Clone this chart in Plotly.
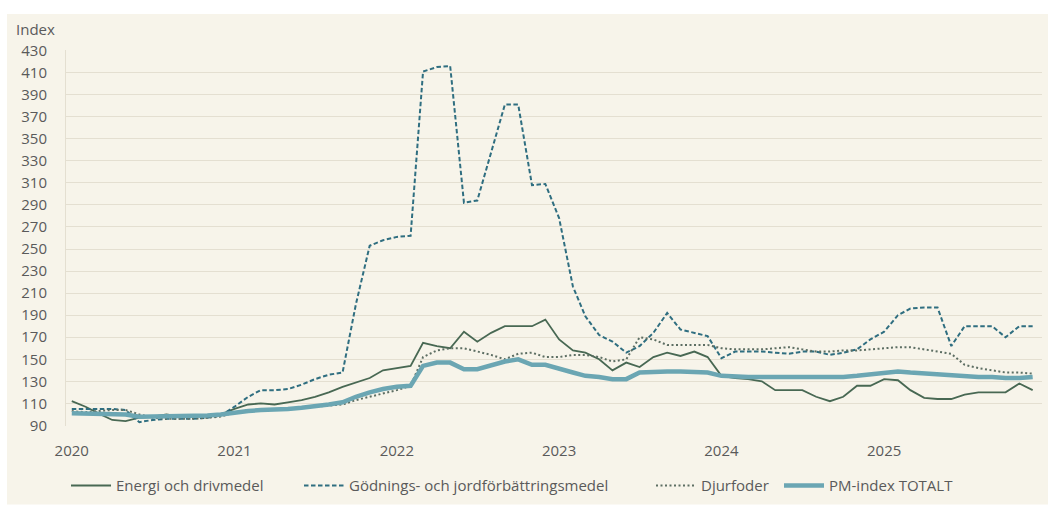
import plotly.graph_objects as go

# Monthly observations Jan 2020 - Dec 2025
months = [f"{y}-{m:02d}-01" for y in range(2020, 2026) for m in range(1, 13)]

energi = [112, 107, 101, 95, 94, 97, 98, 100, 98, 98, 99, 100,
          105, 109, 110, 109, 111, 113, 116, 120, 125, 129, 133, 140,
          142, 144, 165, 162, 160, 175, 166, 174, 180, 180, 180, 186,
          168, 158, 156, 150, 140, 147, 143, 152, 156, 153, 157, 152,
          135, 133, 132, 130, 122, 122, 122, 116, 112, 116, 126, 126,
          132, 131, 122, 115, 114, 114, 118, 120, 120, 120, 128, 122]

godning = [105, 105, 105, 105, 104, 93, 95, 96, 96, 96, 97, 99,
           107, 116, 122, 122, 123, 127, 132, 136, 138, 200, 253, 258,
           261, 262, 411, 415, 416, 292, 294, 337, 381, 381, 308, 309,
           278, 216, 189, 172, 166, 156, 162, 174, 192, 177, 174, 171,
           151, 157, 157, 157, 156, 155, 157, 157, 154, 156, 159, 168,
           175, 190, 196, 197, 197, 162, 180, 180, 180, 170, 180, 180]

djurfoder = [103, 102, 103, 104, 104, 100, 97, 96, 96, 96, 97, 98,
             102, 104, 104, 105, 105, 106, 107, 108, 109, 113, 116, 119,
             122, 126, 152, 158, 160, 160, 157, 154, 150, 155, 156, 152,
             152, 154, 154, 152, 148, 150, 170, 168, 163, 163, 163, 163,
             160, 159, 159, 159, 160, 161, 159, 157, 157, 158, 158, 159,
             160, 161, 161, 159, 157, 155, 145, 142, 140, 138, 138, 137]

pm_total = [101, 101, 100, 100, 100, 98, 98, 98, 98, 99, 99, 100,
            102, 103, 104, 104, 105, 106, 107, 109, 111, 116, 120, 123,
            125, 126, 144, 147, 147, 141, 141, 145, 148, 150, 145, 145,
            142, 138, 135, 134, 132, 132, 138, 139, 139, 139, 139, 138,
            135, 134, 134, 134, 134, 134, 134, 134, 133, 134, 135, 136,
            138, 139, 138, 137, 136, 135, 134, 134, 134, 133, 133, 134]

series_names = ["Energi och drivmedel", "Gödnings- och jordförbättringsmedel",
                "Djurfoder", "PM-index TOTALT"]
year_ticks = ["2020-01-01", "2021-01-01", "2022-01-01", "2023-01-01", "2024-01-01", "2025-01-01"]
year_labels = ["2020", "2021", "2022", "2023", "2024", "2025"]
y_ticks = list(range(90, 431, 20))

FONT = "Open Sans"
FS = 15
TXT = "#5a5a5a"
CREAM = "#f7f4ea"
GRID = "#e4dfd1"

W, H = 1048, 508
L, R, T, B = 66, 6, 50.4, 77.4
pw, ph = W - L - R, H - T - B

def px(xp):
    return (xp - L) / pw

def py(yp):
    return (H - B - yp) / ph

styles = [dict(color="#486853", width=1.8),
          dict(color="#2f6e80", width=2, dash="4.5px,2.5px"),
          dict(color="#5d6e63", width=2, dash="2px,2.5px"),
          dict(color="#6ba6b3", width=4.5)]
series = [energi, godning, djurfoder, pm_total]
legend_ids = ["legend", "legend2", "legend3", "legend4"]
legend_x = [66, 299, 651, 779]

fig = go.Figure()
for name, vals, st, lid in zip(series_names, series, styles, legend_ids):
    fig.add_trace(go.Scatter(x=months, y=vals, name=name, mode="lines",
                             line=st, legend=lid))

legend_common = dict(orientation="h", y=py(491), xanchor="left", yanchor="middle",
                     bgcolor="rgba(0,0,0,0)", font=dict(family=FONT, size=FS, color=TXT),
                     itemwidth=40)

fig.update_layout(
    width=W, height=H,
    margin=dict(l=L, r=R, t=T, b=B, pad=0),
    paper_bgcolor="white",
    plot_bgcolor=CREAM,
    font=dict(family=FONT, size=FS, color=TXT),
    showlegend=True,
    legend=dict(x=px(legend_x[0]), **legend_common),
    legend2=dict(x=px(legend_x[1]), **legend_common),
    legend3=dict(x=px(legend_x[2]), **legend_common),
    legend4=dict(x=px(legend_x[3]), **legend_common),
    shapes=[dict(type="rect", xref="paper", yref="paper", layer="below",
                 x0=px(7), x1=px(1050), y0=py(14), y1=py(510),
                 fillcolor=CREAM, line=dict(width=0))],
    annotations=[dict(text="Index", xref="paper", yref="paper", x=px(14), y=py(29),
                      xanchor="left", yanchor="middle", showarrow=False,
                      font=dict(family=FONT, size=FS, color=TXT))],
)
fig.update_xaxes(
    type="date", range=["2019-12-19", "2025-12-22"],
    tickvals=year_ticks, ticktext=year_labels,
    showgrid=False, zeroline=False, showline=False, ticks="",
    tickfont=dict(family=FONT, size=FS, color=TXT), ticklabelstandoff=14,
)
fig.update_yaxes(
    range=[89.5, 430.5], tickvals=y_ticks,
    showgrid=True, gridcolor=GRID, gridwidth=1.2,
    zeroline=False, showline=True, linecolor=GRID, linewidth=1, ticks="",
    tickfont=dict(family=FONT, size=FS, color=TXT), ticklabelstandoff=15,
)

fig.write_html("out.html")
